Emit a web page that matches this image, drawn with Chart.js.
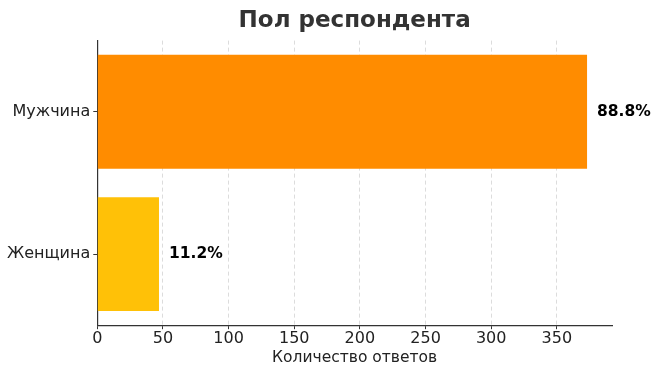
<!DOCTYPE html>
<html lang="ru">
<head>
    <meta charset="UTF-8">
    <title>Пол респондента</title>
    <script src="https://cdn.jsdelivr.net/npm/chart.js"></script>
    <style>
        html, body { margin: 0; padding: 0; background: #fff; }
        #wrap { width: 663px; height: 374px; }
    </style>
</head>
<body>
    <div id="wrap"><canvas id="chart" width="663" height="374"></canvas></div>

    <script>
        const categories = ['Мужчина', 'Женщина'];
        const counts = [373, 47];
        const percentLabels = ['88.8%', '11.2%'];
        const barColors = ['#FF8C00', '#FFC107'];
        const xTicks = [0, 50, 100, 150, 200, 250, 300, 350];

        const font = "'DejaVu Sans', sans-serif";

        // draws the percentage next to each bar end
        const valueLabels = {
            id: 'valueLabels',
            afterDatasetsDraw(chart) {
                const ctx = chart.ctx;
                const meta = chart.getDatasetMeta(0);
                ctx.save();
                ctx.font = 'bold 15.5px ' + font;
                ctx.fillStyle = '#000';
                ctx.textBaseline = 'middle';
                meta.data.forEach((bar, i) => {
                    ctx.fillText(percentLabels[i], bar.x + 10, bar.y);
                });
                ctx.restore();
            }
        };

        new Chart(document.getElementById('chart'), {
            type: 'bar',
            data: {
                labels: categories,
                datasets: [{
                    data: counts,
                    backgroundColor: barColors,
                    borderWidth: 0,
                    categoryPercentage: 0.8,
                    barPercentage: 1.0
                }]
            },
            options: {
                indexAxis: 'y',
                responsive: false,
                animation: false,
                layout: { padding: { left: 4, right: 51, top: 0, bottom: 7 } },
                plugins: {
                    legend: { display: false },
                    tooltip: { enabled: false },
                    title: {
                        display: true,
                        text: 'Пол респондента',
                        fullSize: false,
                        color: '#333',
                        font: { family: font, size: 23, weight: 'bold' },
                        padding: { top: 7, bottom: 6 }
                    }
                },
                scales: {
                    x: {
                        min: 0,
                        max: 392,
                        afterBuildTicks: axis => { axis.ticks = xTicks.map(v => ({ value: v })); },
                        grid: {
                            color: '#dcdcdc',
                            tickColor: '#333',
                            tickLength: 4,
                            tickBorderDash: []
                        },
                        border: { color: '#333', width: 1.2, dash: [4, 3] },
                        ticks: { color: '#222', font: { family: font, size: 16 }, padding: 0 },
                        title: {
                            display: true,
                            text: 'Количество ответов',
                            color: '#222',
                            font: { family: font, size: 15.5 },
                            padding: { top: 0, bottom: 0 }
                        }
                    },
                    y: {
                        grid: {
                            drawOnChartArea: false,
                            offset: false,
                            tickColor: '#333',
                            tickLength: 4
                        },
                        border: { color: '#333', width: 1.2 },
                        ticks: { color: '#222', font: { family: font, size: 16 }, padding: 3 }
                    }
                }
            },
            plugins: [valueLabels]
        });
    </script>
</body>
</html>
